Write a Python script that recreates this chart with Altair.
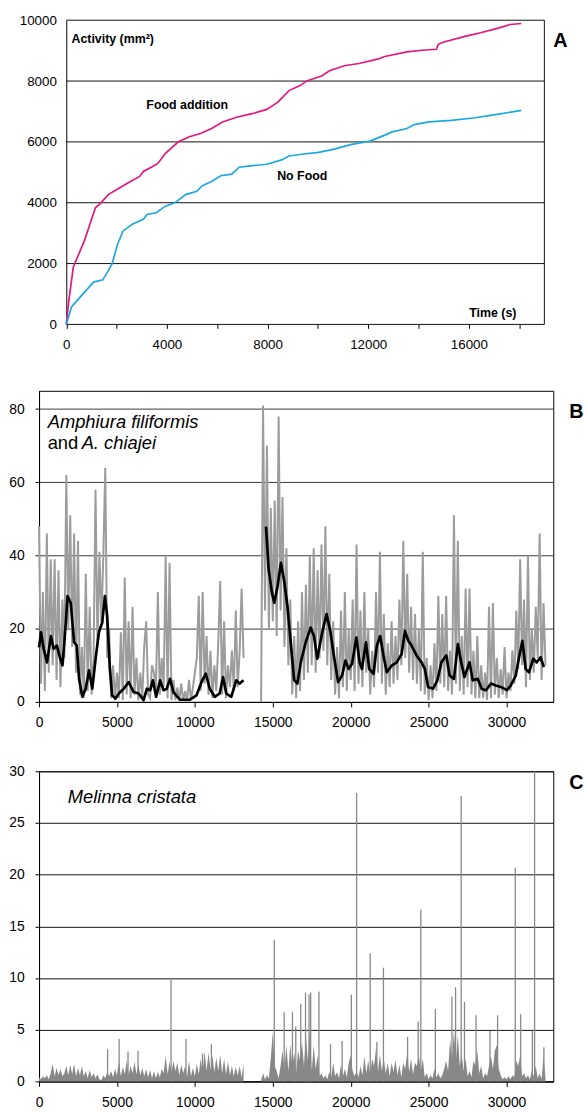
import altair as alt
import pandas as pd

FONT = "Liberation Sans"

# ---------------- Panel A: cumulative activity (mm2) vs time (s)
food_t = [0, 103, 278, 498, 718, 938, 1157, 1377, 1670, 2110, 2549, 2916, 3062, 3429, 3648, 3941, 4161, 4454,
          4894, 5333, 5773, 6212, 6798, 7384, 7971, 8410, 8850, 9289, 9582, 10168, 10461, 11047, 11633, 12366,
          12659, 13538, 14125, 14711, 14784, 15004, 15883, 16469, 17201, 17641, 18081]
food_v = [0, 793, 1878, 2313, 2747, 3290, 3833, 3996, 4267, 4484, 4701, 4864, 5027, 5190, 5299, 5624, 5787, 6004,
          6167, 6276, 6439, 6656, 6819, 6927, 7068, 7307, 7687, 7850, 8013, 8176, 8339, 8502, 8578, 8719,
          8806, 8958, 9012, 9045, 9207, 9283, 9479, 9587, 9750, 9859, 9892]
nofood_t = [0, 205, 498, 791, 1084, 1451, 1670, 1817, 2037, 2256, 2623, 3062, 3209, 3575, 3941, 4308, 4747, 5187,
            5407, 5773, 6139, 6579, 6872, 7311, 7971, 8557, 8850, 9436, 10022, 10608, 11341, 12073, 12659, 12952,
            13538, 13832, 14418, 15297, 16176, 17055, 18081]
nofood_v = [0, 575, 847, 1118, 1390, 1466, 1770, 1987, 2638, 3073, 3290, 3453, 3616, 3670, 3887, 3996, 4267, 4376,
            4560, 4701, 4886, 4940, 5168, 5212, 5266, 5407, 5537, 5603, 5657, 5755, 5917, 6026, 6222, 6330,
            6439, 6569, 6656, 6710, 6786, 6895, 7036]
series_names = ["Food addition", "No Food"]
series_colors = ["#E2177F", "#1DA8E0"]
a_grid = [0, 2000, 4000, 6000, 8000, 10000]
a_xticks = [0, 2000, 4000, 6000, 8000, 10000, 12000, 14000, 16000, 18000]

# ---------------- Panel B: Amphiura (raw grey + smoothed black)
STEP = 125
b_grey1_start = 0
b_grey1 = [48, 5, 30, 3, 46, 8, 39, 10, 39, 6,
           36, 4, 28, 12, 62, 20, 51, 15, 46, 8,
           44, 2, 15, 1, 35, 3, 26, 2, 12, 58,
           15, 41, 22, 40, 64, 12, 20, 1, 10, 0.5,
           8, 1, 19, 0.5, 34, 2, 22, 1, 26, 2,
           12, 0.5, 8, 1, 15, 22, 2, 1, 10, 8,
           3, 30, 2, 12, 4, 40, 1, 38, 0.5, 6,
           0.5, 4, 0.3, 5, 0.3, 3, 0.3, 6, 0.5, 4,
           8, 12, 29, 3, 30, 5, 18, 2, 14, 1,
           10, 3, 16, 33, 2, 22, 1, 10, 4, 14,
           3, 25, 4, 14, 31, 12]
b_grey2_start = 14250
b_grey2 = [0, 81, 25, 70, 20, 53, 22, 55, 18, 78,
           25, 56, 15, 42, 10, 28, 2, 18, 1, 22,
           3, 30, 6, 32, 8, 40, 10, 42, 8, 36,
           12, 43, 14, 48, 10, 35, 6, 22, 2, 15,
           1, 25, 4, 30, 3, 20, 6, 28, 3, 43,
           5, 25, 4, 30, 8, 20, 2, 14, 4, 30,
           8, 41, 5, 24, 2, 16, 4, 22, 5, 18,
           6, 28, 10, 44, 12, 35, 8, 26, 6, 24,
           5, 20, 3, 41, 2, 12, 0.5, 10, 1, 16,
           3, 29, 5, 24, 4, 29, 3, 14, 2, 51,
           5, 44, 3, 18, 2, 31, 4, 31, 2, 14,
           1, 18, 1, 10, 1, 8, 0.5, 26, 1, 27,
           2, 12, 1, 9, 2, 15, 1, 8, 3, 14,
           5, 25, 9, 39, 10, 28, 4, 40, 6, 20,
           8, 26, 12, 46, 6, 27, 10]
b_black1_t = [0, 127, 297, 510, 764, 934, 1146, 1359, 1507, 1720, 1826, 2038, 2250, 2420, 2569, 2781, 2993, 3206,
              3418, 3630, 3843, 4055, 4225, 4373, 4543, 4692, 4904, 5117, 5435, 5754, 6072, 6391, 6709, 6921,
              7133, 7303, 7515, 7770, 7983, 8195, 8407, 8619, 9044, 9681, 10106, 10424, 10700, 10955, 11273,
              11592, 11804, 12016, 12335, 12653, 12866, 13121]
b_black1_v = [14.9, 19, 14.5, 10.8, 18, 14.5, 15.4, 11.8, 10, 21.7, 28.9, 27, 16.3, 15.4, 6.3, 1.4, 3.6, 8.6,
              3.6, 11.8, 19, 21.7, 28.9, 23.5, 9, 1.8, 0.9, 2.3, 3.6, 5.4, 2.7, 2.3, 0.5, 3.6,
              3.2, 5.9, 1.4, 5.9, 3.2, 3.6, 6.3, 2.7, 0.6, 0.6, 1.8, 5.4, 7.7, 3.6, 1.4,
              2.3, 6.8, 2.3, 1.4, 5.9, 5, 5.9]
b_black2_t = [14565, 14735, 14947, 15096, 15308, 15520, 15733, 15945, 16156, 16369, 16581, 16794, 17112, 17430,
              17643, 17855, 18173, 18451, 18705, 18917, 19194, 19448, 19660, 19872, 20084, 20362, 20573, 20722,
              20977, 21189, 21465, 21677, 21890, 22102, 22314, 22633, 22951, 23270, 23482, 23694, 23906, 24225,
              24543, 24756, 24968, 25286, 25562, 25817, 26135, 26347, 26623, 26878, 27090, 27302, 27621, 27833,
              28151, 28406, 28682, 29000, 29319, 29637, 30019, 30274, 30592, 30741, 31017, 31229, 31442, 31718,
              31930, 32185, 32397]
b_black2_v = [47.9, 36.2, 29.8, 27.1, 31.6, 38, 33, 26, 16, 6, 5, 10.8, 16.3, 20.3,
              18, 11.8, 19, 24, 19, 12.7, 5.4, 7.2, 11.3, 9, 10.4, 17.6, 10.8, 9,
              16.3, 9, 7.7, 15.4, 18, 12.7, 8.1, 9.9, 10.8, 13.1, 19.4, 16.7, 15.4, 12.7,
              10.8, 9, 4.1, 3.6, 5.9, 10.8, 12.7, 7.2, 6.3, 15.8, 10.8, 6.8, 10.8, 5.9,
              6.3, 3.6, 3.2, 5, 4.5, 4.1, 3.2, 4.5, 7.2, 10.8, 16.7, 9, 8.1, 11.8,
              10.8, 12.2, 9.5]
b_yticks = [0, 20, 40, 60, 80]
bc_xticks = [0, 5000, 10000, 15000, 20000, 25000, 30000]

# ---------------- Panel C: Melinna cristata
c_base1_start = 0
c_base1 = [0.4, 0.2, 0.5, 0.3, 0.6, 0.2, 0.8, 1.7, 0.5, 1.3,
           0.6, 1.2, 0.5, 0.8, 1.5, 0.6, 1.6, 0.7, 1.7, 0.5,
           1.3, 0.6, 1.5, 0.5, 1.0, 0.3, 1.1, 0.4, 0.8, 0.3,
           0.7, 0.2, 0.1, 0.6, 0.3, 0.9, 0.5, 1.0, 0.4, 1.2,
           0.6, 1.9, 0.5, 1.4, 0.7, 2.0, 0.6, 1.5, 0.8, 1.9,
           0.7, 1.6, 0.6, 1.3, 0.5, 1.2, 0.4, 1.1, 0.3, 1.0,
           0.3, 0.9, 0.4, 1.2, 0.8, 2.5, 0.7, 1.9, 0.9, 2.0,
           1.0, 1.8, 0.6, 1.6, 0.8, 1.5, 0.4, 2.0, 0.5, 1.3,
           0.5, 1.7, 0.7, 2.2, 0.9, 2.9, 1.0, 2.8, 1.1, 2.5,
           0.9, 2.3, 1.0, 2.6, 0.8, 2.2, 0.7, 1.9, 0.6, 1.5,
           0.5, 1.4, 0.6, 1.5, 0.4, 1.7]
c_base2_start = 14250
c_base2 = [0.1, 0.8, 0.2, 0.6, 0.3, 2.3, 4.8, 1.5, 1.0, 0.3,
           1.5, 3.0, 1.2, 3.5, 1.0, 3.6, 1.5, 2.8, 0.8, 3.0,
           2.0, 3.8, 1.5, 4.5, 2.0, 4.8, 1.0, 3.5, 1.2, 2.5,
           0.5, 0.8, 0.3, 0.6, 0.2, 0.9, 0.4, 1.8, 0.5, 0.9,
           0.3, 1.6, 0.5, 1.2, 0.4, 1.8, 2.5, 1.0, 0.5, 1.0,
           0.4, 1.5, 0.6, 2.4, 0.8, 2.0, 0.7, 2.2, 1.5, 3.2,
           0.9, 2.6, 1.0, 2.2, 0.8, 1.8, 0.5, 1.8, 0.9, 2.1,
           0.6, 1.6, 0.4, 1.8, 1.2, 2.8, 0.9, 2.2, 0.7, 1.8,
           1.5, 2.5, 1.0, 2.2, 0.4, 0.8, 0.2, 0.6, 0.3, 1.2,
           0.4, 0.8, 0.3, 0.6, 1.2, 2.0, 1.0, 4.0, 2.2, 5.0,
           2.0, 4.5, 1.5, 2.5, 1.0, 2.2, 0.5, 1.0, 0.4, 2.0,
           1.5, 3.0, 0.8, 1.5, 0.3, 0.8, 0.5, 1.5, 2.5, 1.2,
           3.0, 3.5, 1.2, 0.6, 0.2, 0.4, 0.2, 0.5, 0.2, 0.6,
           0.4, 2.0, 1.5, 2.5, 0.5, 0.8, 0.3, 0.6, 0.2, 1.0,
           0.5, 1.5, 0.3, 0.8, 0.2, 2.5, 0.3]
c_spike_t = [4400, 5140, 5710, 6350, 8470, 9430, 10490, 11060,
             15096, 15732, 16263, 16475, 16794, 17100, 17325, 17431, 17962, 18705, 19448, 20042, 20380, 21253,
             21677, 22102, 23652, 24331, 24500, 25433, 26497, 26730, 27090, 27302, 28045, 28938, 29427, 30560,
             30911, 31656, 31800, 32397]
c_spike_v = [3.1, 4.1, 2.9, 3.0, 9.8, 4.1, 2.7, 3.6,
             13.7, 6.7, 6.7, 5.3, 7.5, 8.6, 8.4, 8.6, 8.7, 3.6, 3.9, 8.4, 27.9, 12.4,
             3.8, 11.0, 4.3, 5.8, 16.6, 7.0, 8.2, 9.1, 27.6, 7.7, 6.4, 4.9, 6.4, 20.7,
             6.5, 4.9, 30, 3.3]
c_yticks = [0, 5, 10, 15, 20, 25, 30]


def regular(start, values, seg):
    return pd.DataFrame({"t": [start + i * STEP for i in range(len(values))], "v": values, "seg": seg})


one = pd.DataFrame({"k": [0]})


def ptext(txt, x, y, size, style="normal", weight="normal", align="left", baseline="middle", opacity=1):
    return alt.Chart(one).mark_text(
        text=txt, font=FONT, fontSize=size, fontStyle=style, fontWeight=weight,
        align=align, baseline=baseline, color="black", opacity=opacity
    ).encode(x=alt.value(x), y=alt.value(y))


# ======== Chart A
A_W, A_H, A_OFF = 510, 307, 27.5
scXA = alt.Scale(domain=[0, 19000], range=[A_OFF, A_W], nice=False)
scYA = alt.Scale(domain=[0, 10000], nice=False)
axXA = alt.Axis(values=a_xticks, format="d",
                labelExpr="datum.value % 4000 === 0 ? datum.label : ''",
                domain=False, grid=False, tickSize=4, tickColor="black", labelPadding=9,
                labelFontSize=13.5, labelFlush=False, labelOverlap=False)
axYA = alt.Axis(values=a_grid, format="d", offset=-A_OFF, ticks=False, grid=False,
                domain=True, domainColor="black", labelPadding=10, labelFontSize=13.5)

dfA = pd.concat([
    pd.DataFrame({"t": food_t, "v": food_v, "s": series_names[0]}),
    pd.DataFrame({"t": nofood_t, "v": nofood_v, "s": series_names[1]}),
])

gridA = alt.Chart(pd.DataFrame({"g": a_grid})).mark_rule(color="#111111", strokeWidth=1).encode(
    y=alt.Y("g:Q", scale=scYA, axis=axYA, title=None),
    x=alt.X(datum=0, type="quantitative", scale=scXA, axis=axXA, title=None),
    x2=alt.X2(datum=19000),
)
rightA = alt.Chart(one).mark_rule(color="#111111", strokeWidth=1).encode(
    x=alt.X(datum=19000, type="quantitative", scale=scXA, axis=axXA, title=None),
    y=alt.Y(datum=0, type="quantitative", scale=scYA, axis=axYA, title=None),
    y2=alt.Y2(datum=10000),
)
linesA = alt.Chart(dfA).mark_line(strokeWidth=1.7).encode(
    x=alt.X("t:Q", scale=scXA, title=None, axis=axXA),
    y=alt.Y("v:Q", scale=scYA, title=None, axis=axYA),
    color=alt.Color("s:N", scale=alt.Scale(domain=series_names, range=series_colors), legend=None),
    detail="s:N",
)
annA = pd.DataFrame({
    "x": [205, 4806, 9377, 16952, 19634],
    "y": [9392, 7199, 4864, 358, 9316],
    "txt": ["Activity (mm²)", "Food addition", "No Food", "Time (s)", "A"],
    "size": [12.5, 12.5, 12.5, 12.5, 20],
    "al": ["left", "center", "center", "center", "center"],
})
textsA = []
for _, r in annA.iterrows():
    textsA.append(alt.Chart(one).mark_text(
        text=r["txt"], font=FONT, fontSize=float(r["size"]), fontWeight="bold",
        align=r["al"], baseline="middle", color="black").encode(
        x=alt.X(datum=float(r["x"]), type="quantitative", scale=scXA, axis=axXA, title=None),
        y=alt.Y(datum=float(r["y"]), type="quantitative", scale=scYA, axis=axYA, title=None)))
spacerA = ptext("0", 100, 329, 10, baseline="top", opacity=0)

chartA = alt.layer(gridA, rightA, linesA, *textsA, spacerA).properties(
    width=A_W, height=A_H, view=alt.ViewBackground(stroke="transparent"))

# ======== Chart B
BC_W = 519
scXB = alt.Scale(domain=[0, 33000], nice=False)
xB = alt.X("t:Q", scale=scXB, title=None, axis=alt.Axis(
    values=bc_xticks, format="d", grid=False, tickSize=5, labelPadding=9, labelFontSize=14,
    labelFlush=False, labelOverlap=False))
yB = alt.Y("v:Q", scale=alt.Scale(domain=[0, 85], nice=False), title=None, axis=alt.Axis(
    values=b_yticks, format="d", grid=True, gridColor="#3a3a3a", gridWidth=1,
    tickSize=4, labelPadding=11, labelFontSize=14))

dfBg = pd.concat([regular(b_grey1_start, b_grey1, 1), regular(b_grey2_start, b_grey2, 2)])
dfBk = pd.concat([pd.DataFrame({"t": b_black1_t, "v": b_black1_v, "seg": 1}),
                  pd.DataFrame({"t": b_black2_t, "v": b_black2_v, "seg": 2})])
greyB = alt.Chart(dfBg).mark_line(color="#9c9c9c", strokeWidth=2.0).encode(x=xB, y=yB, detail="seg:N")
blackB = alt.Chart(dfBk).mark_line(color="black", strokeWidth=2.7, strokeJoin="round").encode(
    x=xB, y=yB, detail="seg:N")
chartB = alt.layer(
    greyB, blackB,
    ptext("Amphiura filiformis", 8.7, 32, 18.5, style="italic"),
    ptext("and", 8.7, 53, 18.5),
    ptext("A. chiajei", 43, 53, 18.5, style="italic"),
    ptext("B", 535, 21, 20, weight="bold"),
).properties(width=BC_W, height=314)

# ======== Chart C
xC = alt.X("t:Q", scale=scXB, title=None, axis=alt.Axis(
    values=bc_xticks, format="d", grid=False, tickSize=5, labelPadding=9, labelFontSize=14,
    labelFlush=False, labelOverlap=False))
yC = alt.Y("v:Q", scale=alt.Scale(domain=[0, 30], nice=False), title=None, stack=None, axis=alt.Axis(
    values=c_yticks, format="d", grid=True, gridColor="#111111", gridWidth=1,
    tickSize=4, labelPadding=11, labelFontSize=14))
dfCa = pd.concat([regular(c_base1_start, c_base1, 1), regular(c_base2_start, c_base2, 2)])
dfCs = pd.DataFrame({"t": c_spike_t, "v": c_spike_v})
areaC = alt.Chart(dfCa).mark_area(color="#888888", interpolate="linear", line=False).encode(
    x=xC, y=yC, detail="seg:N")
spikesC = alt.Chart(dfCs).mark_rule(color="#888888", strokeWidth=1.3).encode(
    x=xC, y=yC, y2=alt.Y2(datum=0))
chartC = alt.layer(
    areaC, spikesC,
    ptext("Melinna cristata", 29, 26, 18.5, style="italic"),
    ptext("C", 535, 12, 20, weight="bold"),
).properties(width=BC_W, height=313)

chart = alt.vconcat(chartA, chartB, chartC, spacing=33).properties(
    padding={"left": 7.4, "top": 7.25, "right": 0, "bottom": 0}
).configure_view(stroke="black", strokeWidth=1).configure_axis(
    labelFont=FONT, labelColor="black", domainColor="black", tickColor="black", domainWidth=1
)

chart.save("out.html", embed_options={"renderer": "svg", "actions": False})
